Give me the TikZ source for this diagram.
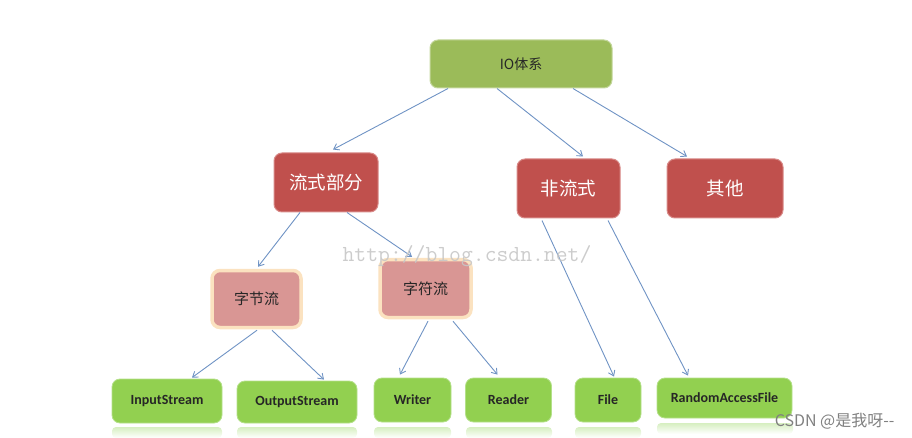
\documentclass[tikz,border=0pt]{standalone}
\usepackage{fontspec}
\newfontfamily\cjk{Noto Sans CJK SC}
\newfontfamily\calfont{Carlito}
\usetikzlibrary{arrows.meta}
\definecolor{topgreen}{HTML}{9BBB59}
\definecolor{topgreenedge}{HTML}{C3D69B}
\definecolor{boxred}{HTML}{C0504D}
\definecolor{boxrededge}{HTML}{D88A88}
\definecolor{boxpink}{HTML}{D99694}
\definecolor{glow}{HTML}{FBE2C0}
\definecolor{leafgreen}{HTML}{92D050}
\definecolor{leafedge}{HTML}{B4E08A}
\definecolor{arrowblue}{HTML}{6F93C4}
\definecolor{reflect}{HTML}{D6EFC0}
\tikzset{
  base/.style={rounded corners=8pt, inner sep=0pt, align=center},
  rootbox/.style={base, fill=topgreen, draw=topgreenedge, line width=1pt, font=\cjk\fontsize{14}{16}\selectfont, text=black!85},
  catbox/.style={base, fill=boxred, draw=boxrededge, line width=1pt, font=\cjk\fontsize{18.5}{22}\selectfont, text=white},
  subbox/.style={base, fill=boxpink, draw=glow, line width=3.5pt, font=\cjk\fontsize{15}{18}\selectfont, text=black!85},
  leafbox/.style={base, fill=leafgreen, draw=leafedge, line width=0.8pt, font=\calfont\bfseries\fontsize{14}{16}\selectfont, text=black!85},
  link/.style={draw=arrowblue, line width=0.9pt, -{Straight Barb[length=5pt,width=7pt]}},
  refl/.style={rounded corners=4pt, top color=reflect, bottom color=white, draw=none}
}
\begin{document}
\begin{tikzpicture}[x=1pt,y=-1pt]
\useasboundingbox (0,0) rectangle (912,438);
% reflections under the bottom row
\path[refl] (112,427) rectangle (222,438);
\path[refl] (237,427) rectangle (357,438);
\path[refl] (374,427) rectangle (451,438);
\path[refl] (466,427) rectangle (552,438);
\path[refl] (575,427) rectangle (641,438);
\path[refl] (657,423) rectangle (793,434);
% nodes
\node[rootbox, minimum width=182pt, minimum height=48pt] (io) at (521,64) {IO体系};
\node[catbox, minimum width=104pt, minimum height=59pt] (stream) at (326,182.5) {流式部分};
\node[catbox, minimum width=103pt, minimum height=59pt] (nonstream) at (568.5,188.5) {非流式};
\node[catbox, minimum width=116pt, minimum height=59pt] (other) at (725,188.5) {其他};
\node[subbox, minimum width=89pt, minimum height=57pt] (byte) at (256.5,299) {字节流};
\node[subbox, minimum width=91pt, minimum height=58pt] (char) at (425.5,288.5) {字符流};
\node[leafbox, minimum width=110pt, minimum height=44pt] (in) at (167,401) {InputStream};
\node[leafbox, minimum width=120pt, minimum height=42pt] (out) at (297,402) {OutputStream};
\node[leafbox, minimum width=77pt, minimum height=44pt] (writer) at (412.5,400) {Writer};
\node[leafbox, minimum width=86pt, minimum height=44pt] (reader) at (508.5,400) {Reader};
\node[leafbox, minimum width=66pt, minimum height=44pt] (file) at (608,400) {File};
\node[leafbox, minimum width=135pt, minimum height=40pt] (raf) at (724.5,398) {RandomAccessFile};
% connectors
\draw[link] ([xshift=-73pt]io.south) -- ([xshift=7pt,yshift=3pt]stream.north);
\draw[link] ([xshift=-24pt]io.south) -- ([xshift=14.5pt,yshift=2pt]nonstream.north);
\draw[link] ([xshift=52pt]io.south) -- ([xshift=-38pt,yshift=2pt]other.north);
\draw[link] ([xshift=-26pt]stream.south) -- ([xshift=1.5pt,yshift=2pt]byte.north);
\draw[link] ([xshift=21pt]stream.south) -- ([xshift=-13.5pt,yshift=1pt]char.north);
\draw[link] ([xshift=0.5pt,yshift=-1pt]byte.south) -- ([xshift=25pt,yshift=1pt]in.north);
\draw[link] ([xshift=15.5pt,yshift=-1pt]byte.south) -- ([xshift=27pt,yshift=1pt]out.north);
\draw[link] ([xshift=2.5pt,yshift=-2pt]char.south) -- ([xshift=-12.5pt,yshift=3pt]writer.north);
\draw[link] ([xshift=27.5pt,yshift=-2pt]char.south) -- ([xshift=-11pt,yshift=3pt]reader.north);
\draw[link] ([xshift=-26.5pt,yshift=-2pt]nonstream.south) -- ([xshift=6pt,yshift=1pt]file.north);
\draw[link] ([xshift=39.5pt,yshift=-2pt]nonstream.south) -- ([xshift=-36.5pt,yshift=2pt]raf.north);
% watermarks
\node[text=black!22, font=\ttfamily\fontsize{23}{26}\selectfont, opacity=0.9] (wm) at (467,256) {http://blog.csdn.net/};
\node[text=black!50, font=\cjk\fontsize{16}{18}\selectfont, anchor=east] (csdn) at (898,421) {CSDN @是我呀--};
\end{tikzpicture}
\end{document}
